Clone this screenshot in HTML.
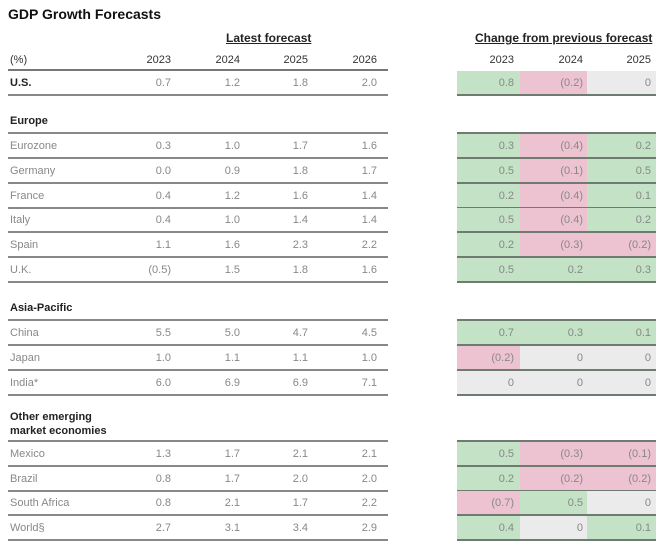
<!DOCTYPE html>
<html><head><meta charset="utf-8"><style>
body{margin:0;width:660px;height:545px;background:#fff;position:relative;overflow:hidden;font-family:"Liberation Sans",sans-serif;}
.a{position:absolute;white-space:nowrap;}
.t{font-size:11px;color:#888;}
.b{font-size:11px;color:#222;font-weight:bold;}
.y{font-size:11px;color:#333;}
.h{font-size:11px;color:#222;}
.ln{position:absolute;height:2px;background:#777;}
.c{position:absolute;}
</style></head><body>
<div class="a" style="left:8px;top:6px;font-size:14px;font-weight:bold;color:#111;">GDP Growth Forecasts</div>
<div class="a h" style="left:226px;top:31px;text-decoration:underline;font-weight:bold;font-size:12px;">Latest forecast</div>
<div class="a h" style="left:475px;top:31px;text-decoration:underline;font-weight:bold;font-size:12px;">Change from previous forecast</div>
<script>
var R=document.body;
function txt(x,y,s,cls,right){var d=document.createElement('div');d.className='a '+cls;d.textContent=s;d.style.top=(y-6)+'px';if(right){d.style.right=(660-x)+'px';}else d.style.left=x+'px';R.appendChild(d);}
function line(x,y,w,h,c){var d=document.createElement('div');d.className='ln';d.style.left=x+'px';d.style.top=y+'px';d.style.width=w+'px';d.style.height=(h||2)+'px';if(c)d.style.background=c;R.appendChild(d);}
function box(x,y,w,h,c){var d=document.createElement('div');d.className='c';d.style.left=x+'px';d.style.top=y+'px';d.style.width=w+'px';d.style.height=h+'px';d.style.background=c;R.appendChild(d);}
var L=[171,240,308,377], RC=[[457,63,514],[520,67,583],[587,69,651]];
var G='#c3e2c6',P='#eec3d1',N='#ebebeb';
txt(10,60,'(%)','y');
['2023','2024','2025','2026'].forEach(function(s,i){txt(L[i],60,s,'y',1);});
['2023','2024','2025'].forEach(function(s,i){txt(RC[i][2],60,s,'y',1);});
line(8,69,380,2);
function row(top,name,vals,chg){
  var h=25;
  chg.forEach(function(c,i){var v=c[0],col=v.indexOf('(')==0?P:(v=='0'?N:G);box(RC[i][0],top+1,RC[i][1],h-1,col);});
  line(457,top+h-1,199,2,'#6f7a70');
  var y=top+13;
  txt(10,y,name,name=='U.S.'?'b':'t');
  vals.forEach(function(v,i){txt(L[i],y,v,'t',1);});
  chg.forEach(function(c,i){txt(RC[i][2],y,c[0],'t',1);});
  line(8,top+h-1,380,2,'#888');
}
function C(a,b,c){return [[a],[b],[c]];}
row(70,'U.S.',['0.7','1.2','1.8','2.0'],C('0.8','(0.2)','0'));
txt(10,121,'Europe','b'); line(8,132,380,2,'#888'); line(457,132,199,2,'#6f7a70');
var eu=[['Eurozone',['0.3','1.0','1.7','1.6'],C('0.3','(0.4)','0.2')],
['Germany',['0.0','0.9','1.8','1.7'],C('0.5','(0.1)','0.5')],
['France',['0.4','1.2','1.6','1.4'],C('0.2','(0.4)','0.1')],
['Italy',['0.4','1.0','1.4','1.4'],C('0.5','(0.4)','0.2')],
['Spain',['1.1','1.6','2.3','2.2'],C('0.2','(0.3)','(0.2)')],
['U.K.',['(0.5)','1.5','1.8','1.6'],C('0.5','0.2','0.3')]];
eu.forEach(function(r,i){row(133+i*24.8,r[0],r[1],r[2]);});
txt(10,308,'Asia-Pacific','b'); line(8,319,380,2,'#888'); line(457,319,199,2,'#6f7a70');
var ap=[['China',['5.5','5.0','4.7','4.5'],C('0.7','0.3','0.1')],
['Japan',['1.0','1.1','1.1','1.0'],C('(0.2)','0','0')],
['India*',['6.0','6.9','6.9','7.1'],C('0','0','0')]];
ap.forEach(function(r,i){row(320+i*24.8,r[0],r[1],r[2]);});
txt(10,417,'Other emerging','b'); txt(10,431,'market economies','b');
line(8,440,380,2,'#888'); line(457,440,199,2,'#6f7a70');
var em=[['Mexico',['1.3','1.7','2.1','2.1'],C('0.5','(0.3)','(0.1)')],
['Brazil',['0.8','1.7','2.0','2.0'],C('0.2','(0.2)','(0.2)')],
['South Africa',['0.8','2.1','1.7','2.2'],C('(0.7)','0.5','0')],
['World§',['2.7','3.1','3.4','2.9'],C('0.4','0','0.1')]];
em.forEach(function(r,i){row(441+i*24.6,r[0],r[1],r[2]);});
</script>
</body></html>
